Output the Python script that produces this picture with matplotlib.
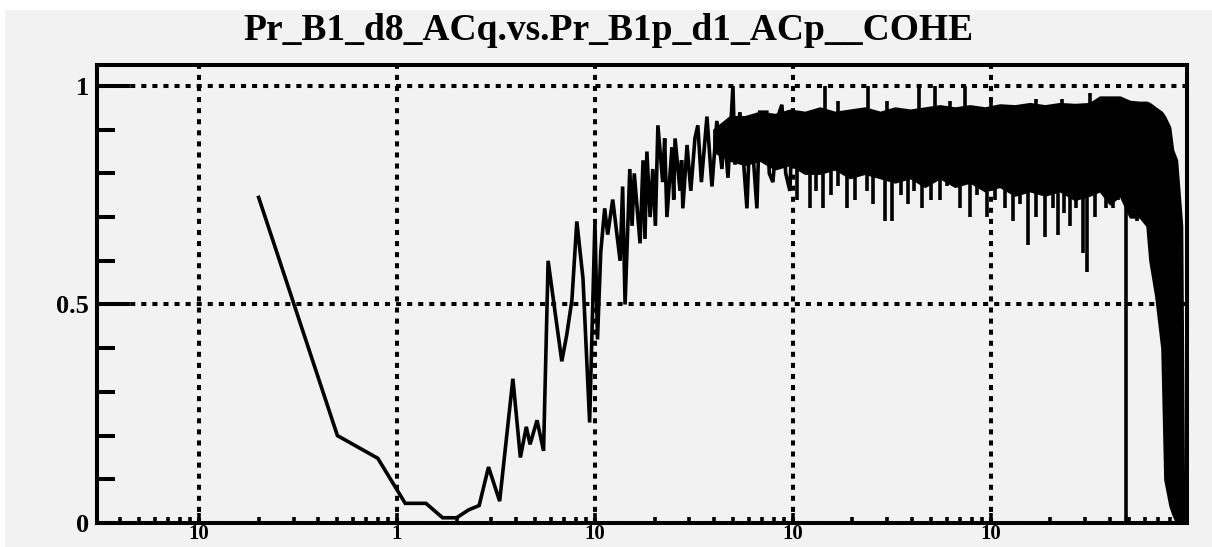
import matplotlib
matplotlib.use("Agg")
import matplotlib.pyplot as plt
from matplotlib.patches import Rectangle
from matplotlib.ticker import FixedLocator, FixedFormatter, MultipleLocator, LogLocator, NullFormatter

title = "Pr_B1_d8_ACq.vs.Pr_B1p_d1_ACp__COHE"

# coherence trace, low and middle frequencies (Hz, value)
freq_line = [0.2, 0.5, 0.8, 1.1, 1.4, 1.7, 2.0, 2.3, 2.6, 2.9, 3.3, 3.85, 4.2, 4.5, 4.7,
             5.1, 5.5, 5.8, 6.3, 6.8, 7.2, 7.65, 8.1, 8.7, 9.4, 10.0, 10.3, 10.7, 11.2,
             11.6, 12.3, 13.4, 13.8, 14.2, 15.0, 15.4, 15.8, 16.9, 17.5, 17.9, 18.3,
             19.0, 19.6, 20.2, 20.8, 22.0, 22.5, 23.1, 24.5, 25.0, 25.4, 26.9, 27.4,
             27.8, 29.2, 30.5, 32.0, 33.1, 34.5, 36.8, 39.0, 41.3, 43.8, 45.0, 47.0,
             49.8, 51.0, 54.0, 58.6, 61.0, 65.8, 68.0, 73.9, 76.0, 79.3, 84.0, 88.0,
             92.0, 96.6, 100.0]
coh_line = [0.745, 0.200, 0.148, 0.045, 0.045, 0.012, 0.012, 0.030, 0.040, 0.128, 0.050,
            0.330, 0.150, 0.220, 0.180, 0.235, 0.165, 0.600, 0.480, 0.370, 0.430, 0.510,
            0.690, 0.560, 0.230, 0.690, 0.420, 0.620, 0.720, 0.660, 0.740, 0.600, 0.770,
            0.500, 0.810, 0.680, 0.800, 0.640, 0.830, 0.650, 0.850, 0.700, 0.810, 0.680,
            0.910, 0.780, 0.880, 0.700, 0.860, 0.740, 0.880, 0.760, 0.830, 0.720, 0.865,
            0.760, 0.880, 0.910, 0.780, 0.930, 0.770, 0.920, 0.810, 0.900, 0.790, 1.000,
            0.820, 0.940, 0.720, 0.930, 0.720, 0.940, 0.940, 0.800, 0.780, 0.930, 0.957,
            0.800, 0.760, 0.940]

# dense part: upper / lower edge of the oscillation band
freq_band = [39.8, 48.1, 57.2, 68.1, 81.1, 96.6, 115, 137, 163, 194, 231, 276, 328, 391,
             465, 553, 659, 785, 934, 1110, 1323, 1575, 1875, 2230, 2655, 3160, 3555,
             4000, 4490, 5050, 5660, 6140, 6355, 6800, 7305, 7560, 8020, 8300, 8690,
             9220, 9440]
band_hi = [0.90, 0.93, 0.93, 0.94, 0.935, 0.945, 0.94, 0.95, 0.94, 0.945, 0.95, 0.94,
           0.95, 0.945, 0.95, 0.955, 0.95, 0.955, 0.95, 0.957, 0.955, 0.96, 0.955, 0.96,
           0.958, 0.96, 0.975, 0.975, 0.975, 0.965, 0.963, 0.963, 0.96, 0.95, 0.94, 0.93,
           0.906, 0.854, 0.83, 0.68, 0.0]
band_lo = [0.85, 0.83, 0.82, 0.83, 0.81, 0.82, 0.80, 0.80, 0.81, 0.79, 0.80, 0.79, 0.78,
           0.79, 0.77, 0.79, 0.77, 0.78, 0.76, 0.77, 0.75, 0.76, 0.75, 0.76, 0.74, 0.75,
           0.76, 0.73, 0.75, 0.70, 0.70, 0.68, 0.60, 0.52, 0.40, 0.10, 0.04, 0.02, 0.0,
           0.0, 0.0]

# isolated spikes out of the band
freq_dip = [105, 122, 131, 142, 155, 170, 188, 205, 236, 255, 291, 316, 350, 380, 410,
            450, 500, 552, 600, 700, 783, 850, 955, 1050, 1180, 1290, 1400, 1540, 1700,
            1875, 2050, 2180, 2350, 2500, 2700, 2915, 3055, 3350, 3800, 4130, 4400, 4810,
            5200, 5460, 5900]
coh_dip = [0.74, 0.72, 0.76, 0.72, 0.75, 0.77, 0.72, 0.74, 0.76, 0.73, 0.69, 0.69, 0.75,
           0.73, 0.76, 0.72, 0.74, 0.74, 0.77, 0.72, 0.70, 0.75, 0.70, 0.74, 0.72, 0.69,
           0.73, 0.636, 0.70, 0.655, 0.72, 0.66, 0.71, 0.68, 0.72, 0.618, 0.575, 0.70,
           0.72, 0.72, 0.74, 0.0, 0.72, 0.69, 0.70]
freq_peak = [145, 170, 239, 300, 433, 521, 620, 739, 1000, 1700, 2300, 3162]
coh_peak = [1.0, 0.965, 1.0, 0.965, 1.0, 1.0, 0.965, 1.0, 0.97, 0.97, 0.97, 0.985]

xtick_pos = [0.1, 1, 10, 100, 1000]
xtick_lab = ["10", "1", "10", "10", "10"]
ytick_pos = [0, 0.5, 1]
ytick_lab = ["0", "0.5", "1"]

plt.rcParams['font.family'] = ['Liberation Serif', 'DejaVu Serif']
plt.rcParams['font.weight'] = 'bold'

W, H = 1212, 547
fig = plt.figure(figsize=(W / 100, H / 100), dpi=100, facecolor='white')
fig.patches.append(Rectangle((5 / W, 0), 1, 1 - 10 / H, transform=fig.transFigure,
                             facecolor='#f2f2f2', edgecolor='none', zorder=-10))

ax = fig.add_axes([97 / W, 1 - 523 / H, (1187 - 97) / W, (523 - 65) / H])
ax.set_facecolor('#f2f2f2')
ax.set_xscale('log')
ax.set_xlim(0.0305, 9800)
ax.set_ylim(0, 1.048)

ax.fill_between(freq_band, band_lo, band_hi, color='black', linewidth=1.5,
                edgecolor='black', zorder=3)
ax.vlines(freq_dip, coh_dip, 0.81, color='black', linewidth=2.6, zorder=3)
ax.vlines(freq_peak, 0.9, coh_peak, color='black', linewidth=2.6, zorder=3)
ax.plot(freq_line, coh_line, color='black', linewidth=2.6, zorder=4,
        solid_joinstyle='miter')

for s in ax.spines.values():
    s.set_linewidth(2.9)

ax.xaxis.set_major_locator(FixedLocator(xtick_pos))
ax.xaxis.set_major_formatter(FixedFormatter(xtick_lab))
ax.xaxis.set_minor_locator(LogLocator(base=10, subs=range(2, 10), numticks=20))
ax.xaxis.set_minor_formatter(NullFormatter())
ax.yaxis.set_major_locator(FixedLocator(ytick_pos))
ax.yaxis.set_major_formatter(FixedFormatter(ytick_lab))
ax.yaxis.set_minor_locator(MultipleLocator(0.1))

ax.tick_params(axis='x', which='major', direction='in', length=7, width=2.6,
               labelsize=15, pad=1)
ax.tick_params(axis='x', which='minor', direction='in', length=4.5, width=2.6)
ax.tick_params(axis='y', which='major', direction='in', length=24, width=2.9,
               labelsize=19, pad=6)
ax.tick_params(axis='y', which='minor', direction='in', length=13, width=2.9)

ax.grid(True, which='major', color='black', linestyle=(0, (1.25, 1.5)),
        linewidth=2.9, zorder=2)
ax.set_axisbelow(True)

fig.text(0.502, 1 - 30 / H, title, ha='center', va='center', fontsize=27,
         fontweight='bold')

fig.savefig('out.png', dpi=100, facecolor=fig.get_facecolor())
